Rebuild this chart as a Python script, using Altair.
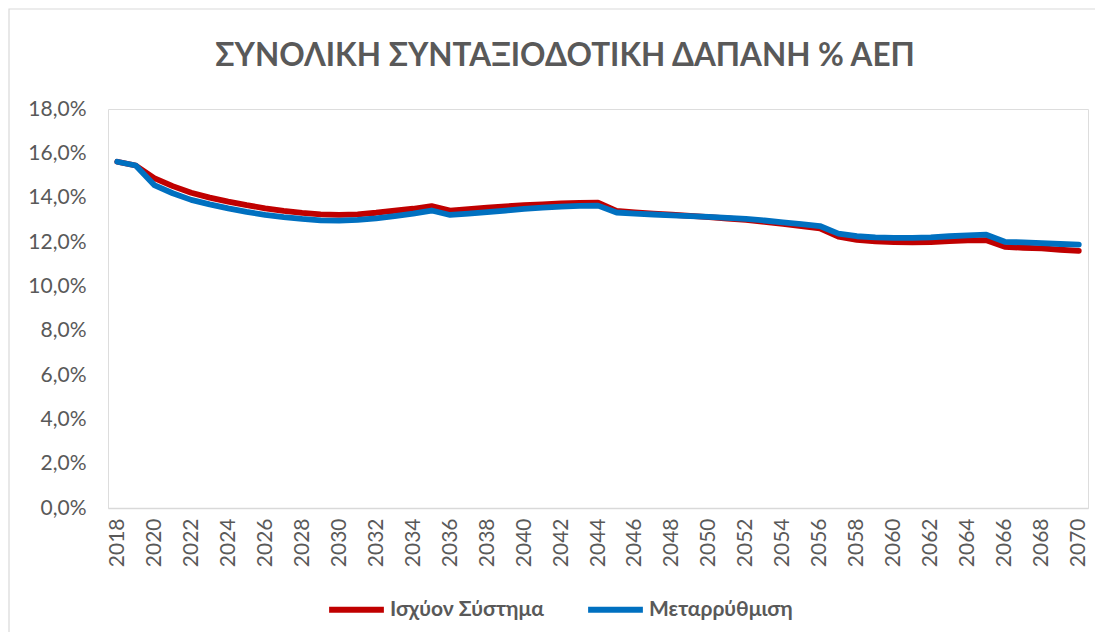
import altair as alt
import pandas as pd

years = list(range(2018, 2071))

current_system = [
    15.62, 15.45, 14.88, 14.52, 14.22, 14.00, 13.82, 13.66, 13.52, 13.40,
    13.31, 13.25, 13.22, 13.25, 13.32, 13.41, 13.50, 13.62, 13.42, 13.48,
    13.55, 13.61, 13.66, 13.70, 13.74, 13.76, 13.77, 13.40, 13.34, 13.28,
    13.23, 13.18, 13.12, 13.06, 13.00, 12.91, 12.82, 12.72, 12.62, 12.24,
    12.10, 12.03, 11.99, 11.98, 11.99, 12.04, 12.07, 12.08, 11.78, 11.74,
    11.71, 11.65, 11.60,
]

reform = [
    15.62, 15.45, 14.57, 14.20, 13.90, 13.70, 13.52, 13.36, 13.22, 13.12,
    13.04, 12.98, 12.96, 13.00, 13.07, 13.17, 13.28, 13.42, 13.22, 13.28,
    13.35, 13.42, 13.49, 13.55, 13.60, 13.63, 13.64, 13.33, 13.28, 13.24,
    13.20, 13.17, 13.13, 13.09, 13.04, 12.97, 12.89, 12.81, 12.72, 12.38,
    12.26, 12.21, 12.19, 12.19, 12.21, 12.26, 12.30, 12.33, 12.01, 11.98,
    11.95, 11.91, 11.88,
]

series_names = ["Ισχύον Σύστημα", "Μεταρρύθμιση"]
series_colors = ["#C00000", "#0070C0"]
x_tick_years = list(range(2018, 2071, 2))
y_ticks = [0, 2, 4, 6, 8, 10, 12, 14, 16, 18]
title_text = "ΣΥΝΟΛΙΚΗ ΣΥΝΤΑΞΙΟΔΟΤΙΚΗ ΔΑΠΑΝΗ % ΑΕΠ"

rows = []
for i, y in enumerate(years):
    rows.append({"year": y, "value": current_system[i], "series": series_names[0], "order": 0})
for i, y in enumerate(years):
    rows.append({"year": y, "value": reform[i], "series": series_names[1], "order": 1})
df = pd.DataFrame(rows)

FONT = "Lato"
GREY = "#595959"

lines = alt.Chart(df).mark_line(strokeWidth=5.8, strokeCap="round", strokeJoin="round").encode(
    x=alt.X("year:Q",
            scale=alt.Scale(domain=[2017.5, 2070.5], nice=False, zero=False),
            axis=alt.Axis(values=x_tick_years, format="d", labelAngle=270, title=None,
                          grid=False, ticks=False, domain=True, domainColor="#d9d9d9",
                          domainWidth=1.5, labelFontSize=21, labelColor=GREY,
                          labelFont=FONT, labelPadding=10, labelOverlap=False)),
    y=alt.Y("value:Q",
            scale=alt.Scale(domain=[0, 18], nice=False),
            axis=alt.Axis(values=y_ticks, title=None, grid=False, ticks=False, domain=False,
                          labelExpr="replace(format(datum.value, '.1f'), '.', ',') + '%'",
                          labelFontSize=21, labelColor=GREY, labelFont=FONT, labelPadding=22)),
    color=alt.Color("series:N",
                    scale=alt.Scale(domain=series_names, range=series_colors),
                    legend=alt.Legend(title=None, orient="none", direction="horizontal",
                                      legendX=218, legendY=470,
                                      symbolType="stroke", symbolSize=3000,
                                      symbolStrokeWidth=6, labelFontSize=21,
                                      labelFontWeight="bold", labelColor=GREY,
                                      labelFont=FONT, columnPadding=32, labelOffset=3)),
    order=alt.Order("order:Q"),
)

frame = alt.Chart(pd.DataFrame({"a": [0]})).mark_rect(
    filled=False, stroke="#d9d9d9", strokeWidth=1.2
).encode(
    x=alt.value(-99), x2=alt.value(992), y=alt.value(-100), y2=alt.value(530)
)

title = alt.Chart(pd.DataFrame({"t": [title_text]})).mark_text(
    font=FONT, fontSize=31.5, fontWeight="bold", color=GREY, align="center", baseline="middle"
).encode(
    text="t:N", x=alt.value(457), y=alt.value(-52)
)

chart = alt.layer(frame, title, lines).properties(
    width=980,
    height=399,
    autosize=alt.AutoSizeParams(type="none"),
    padding={"left": 100, "top": 101, "right": 7, "bottom": 124},
).configure_view(stroke=None).configure(background="white")

chart.save("out.html", embed_options={"renderer": "svg", "actions": False})
